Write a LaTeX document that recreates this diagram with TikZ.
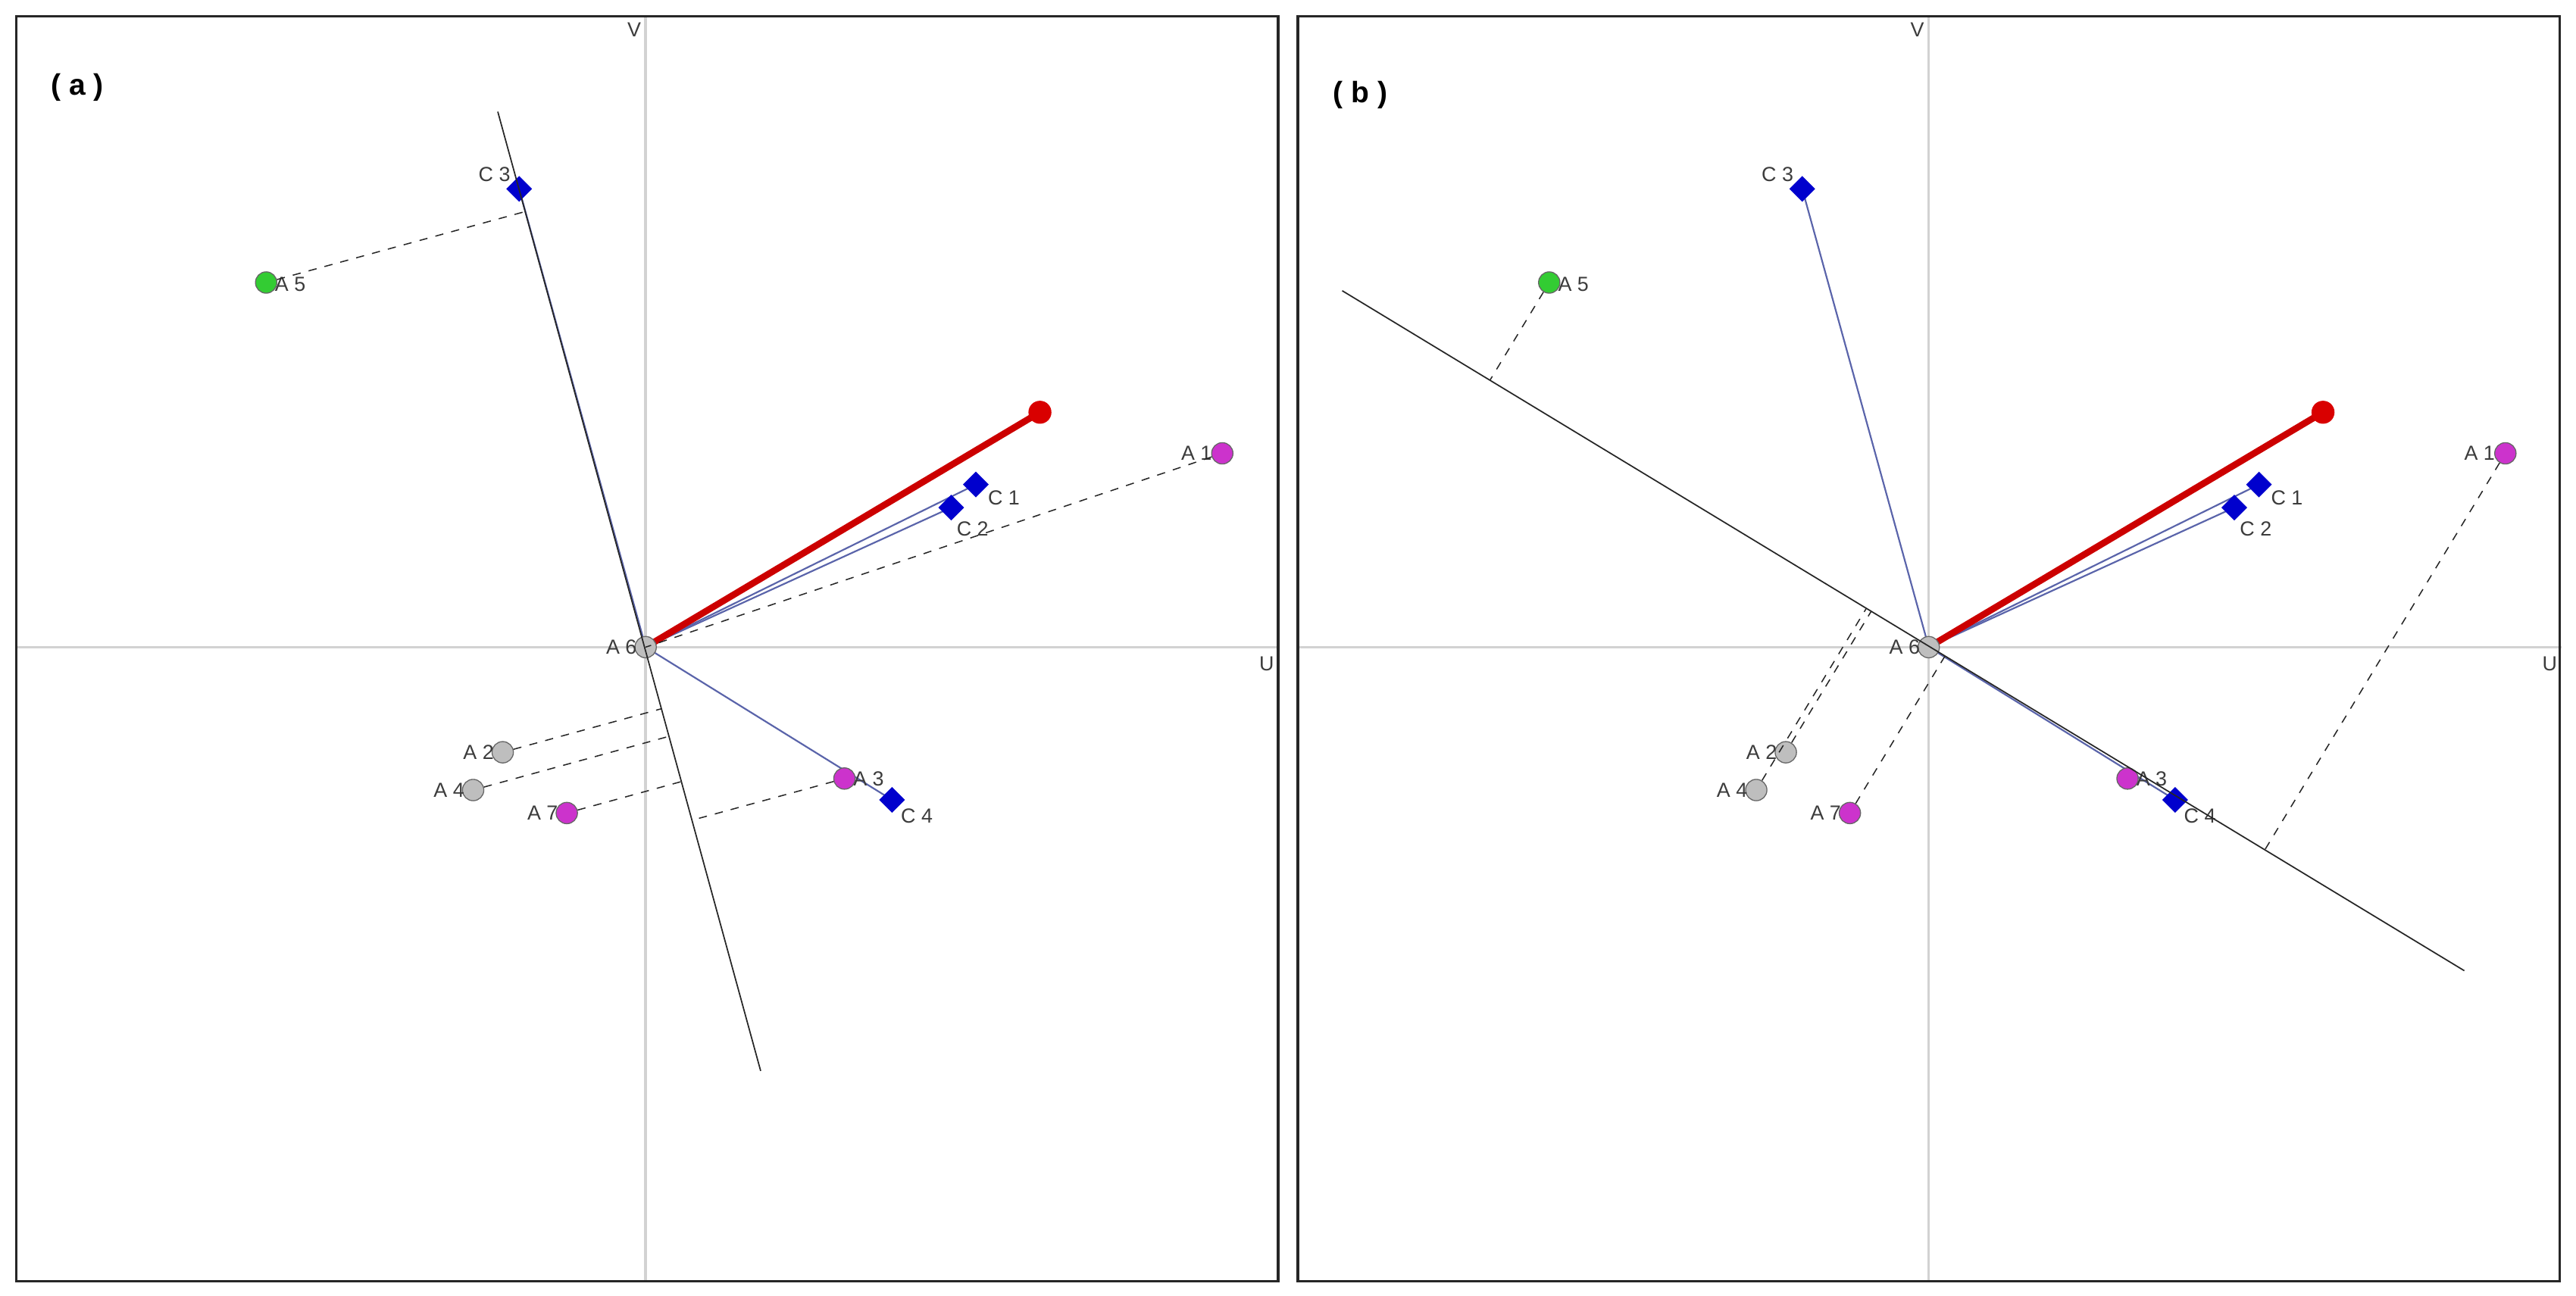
\documentclass[tikz,border=0pt]{standalone}
\usepackage{fontspec}
\setmainfont{Liberation Sans}
\usetikzlibrary{calc,shapes.geometric}
\definecolor{dblue}{RGB}{0,0,205}
\definecolor{vblue}{RGB}{90,100,170}
\definecolor{mag}{RGB}{204,51,204}
\definecolor{grn}{RGB}{51,204,51}
\definecolor{gry}{RGB}{190,190,190}
\definecolor{axisg}{RGB}{210,210,210}
\definecolor{lbl}{RGB}{60,60,60}
\tikzset{
  frame/.style={draw=black!85,line width=0.8pt},
  axisl/.style={draw=axisg,line width=0.8pt},
  ptc/.style={circle,draw=black!60,line width=0.3pt,fill=#1,minimum size=6.5pt,inner sep=0pt},
  cmark/.style={diamond,fill=dblue,minimum size=8pt,inner sep=0pt},
  lab/.style={font=\fontsize{6.2}{7}\selectfont,text=lbl,inner sep=1pt},
  proj/.style={dashed,dash pattern=on 2.5pt off 2.5pt,line width=0.35pt,black!85},
  cvec/.style={draw=vblue,line width=0.5pt},
  rvec/.style={draw=red!80!black,line width=2pt},
  bline/.style={draw=black!85,line width=0.4pt}
}
% #1 prefix, #2 x shift
\newcommand{\panelpts}[2]{%
  \coordinate (#1O) at (#2+393,394);
  \draw[axisl] (#2+393,10) -- (#2+393,780);
  \draw[axisl] (#2+10,394) -- (#2+778,394);
  \node[lab] (#1V) at (#2+386,18) {V};
  \node[lab] (#1U) at (#2+771,404) {U};
  \draw[cvec] (#1O) -- ($(#1O)+(-77,-279)$);
  \draw[cvec] (#1O) -- ($(#1O)+(201,-99)$);
  \draw[cvec] (#1O) -- ($(#1O)+(186,-85)$);
  \draw[cvec] (#1O) -- ($(#1O)+(150,93)$);
  \draw[rvec] (#1O) -- ($(#1O)+(240,-143)$);
  \node[circle,fill=red!85!black,minimum size=7pt,inner sep=0pt] (#1R) at ($(#1O)+(240,-143)$) {};
  \node[cmark] (#1C3) at ($(#1O)+(-77,-279)$) {};
  \node[cmark] (#1C1) at ($(#1O)+(201,-99)$) {};
  \node[cmark] (#1C2) at ($(#1O)+(186,-85)$) {};
  \node[cmark] (#1C4) at ($(#1O)+(150,93)$) {};
  \node[ptc=grn] (#1A5) at ($(#1O)+(-231,-222)$) {};
  \node[ptc=mag] (#1A1) at ($(#1O)+(351,-118)$) {};
  \node[ptc=gry] (#1A2) at ($(#1O)+(-87,64)$) {};
  \node[ptc=gry] (#1A4) at ($(#1O)+(-105,87)$) {};
  \node[ptc=mag] (#1A7) at ($(#1O)+(-48,101)$) {};
  \node[ptc=mag] (#1A3) at ($(#1O)+(121,80)$) {};
  \node[ptc=gry] (#1A6) at (#1O) {};
  \node[lab,left] at ($(#1C3)+(-3,-9)$) {C 3};
  \node[lab,right] at ($(#1A5)+(3,1)$) {A 5};
  \node[lab,left] at ($(#1A1)+(-4,0)$) {A 1};
  \node[lab,right] at ($(#1C1)+(5,8)$) {C 1};
  \node[lab,right] at ($(#1C2)+(1,13)$) {C 2};
  \node[lab,left] at ($(#1A6)+(-3,0)$) {A 6};
  \node[lab,left] at ($(#1A2)+(-3,0)$) {A 2};
  \node[lab,left] at ($(#1A4)+(-3,0)$) {A 4};
  \node[lab,left] at ($(#1A7)+(-3,0)$) {A 7};
  \node[lab,right] at ($(#1A3)+(3,0)$) {A 3};
  \node[lab,right] at ($(#1C4)+(3,10)$) {C 4};
}
\newcommand{\projto}[3]{\draw[proj] (#1#3) -- ($(#1P)!(#1#3)!(#1Q)$);}
\begin{document}
\begin{tikzpicture}[x=0.5pt,y=-0.5pt]
\useasboundingbox (0,0) rectangle (1568,789);
\fill[white] (0,0) rectangle (1568,789);
% panel a
\panelpts{a}{0}
\coordinate (aP) at (303,68);
\coordinate (aQ) at (463,652);
\draw[bline] (aP) -- (aQ);
\foreach \n in {A5,A2,A4,A7,A3} {\projto{a}{}{\n}}
\draw[proj] (aA1) -- (aO);
\draw[frame] (10,10) rectangle (778,780);
\node[font=\fontsize{9}{10}\selectfont\bfseries] (la) at (47,53) {( a )};
% panel b
\panelpts{b}{781}
\coordinate (bP) at (817,177);
\coordinate (bQ) at (1500,591);
\draw[bline] (bP) -- (bQ);
\foreach \n in {A5,A1,A2,A4,A7} {\projto{b}{}{\n}}
\draw[frame] (790,10) rectangle (1558,780);
\node[font=\fontsize{9}{10}\selectfont\bfseries] (lb) at (828,58) {( b )};
\end{tikzpicture}
\end{document}
